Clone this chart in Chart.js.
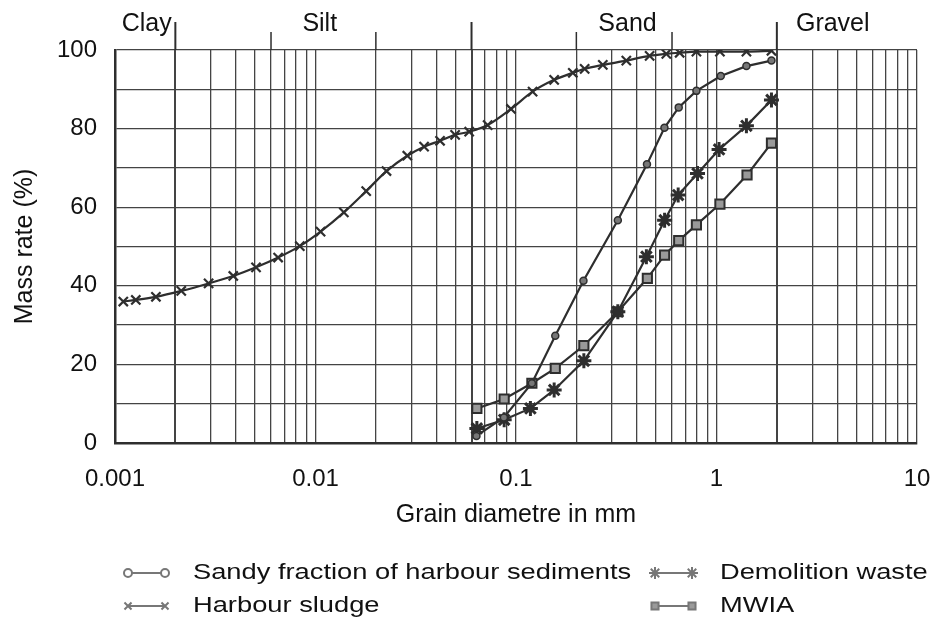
<!DOCTYPE html>
<html>
<head>
<meta charset="utf-8">
<script src="https://cdn.jsdelivr.net/npm/chart.js@4/dist/chart.umd.min.js"></script>
<style>
	html, body { margin: 0; padding: 0; background: #fff; }
	canvas { display: block; }
</style>
</head>
<body>
<canvas id="grain" width="936" height="621"></canvas>
<script>
var color = {
	ink: "#2e2e2e"
  , grid: "#444444"
  , mid: "#777777"
  , light: "#9a9a9a"
}

var fonts = '"Liberation Sans", Arial, Helvetica, sans-serif';

// grain size classes
var zoneNames   = ["Clay", "Silt", "Sand", "Gravel"];
var zoneLabelAt = [0.00144, 0.0105, 0.36, 3.8];
var zoneEdges   = [0.002, 0.06, 2];
var zoneSubEdges = [0.006, 0.02, 0.2, 0.6];

// axes
var xDecades    = [0.001, 0.01, 0.1, 1, 10];
var xTickLabels = ["0.001", "0.01", "0.1", "1", "10"];
var yTicks      = [0, 10, 20, 30, 40, 50, 60, 70, 80, 90, 100];
var yTickLabels = ["0", "", "20", "", "40", "", "60", "", "80", "", "100"];

// series
var seriesNames = [
	"Sandy fraction of harbour sediments",
	"Harbour sludge",
	"Demolition waste",
	"MWIA"
];

var sandyX = [0.0635, 0.087, 0.12, 0.157, 0.217, 0.322, 0.45, 0.55, 0.648, 0.794, 1.05, 1.41, 1.88];
var sandyY = [1.8, 6.5, 15.2, 27.3, 41.3, 56.7, 70.9, 80.2, 85.4, 89.6, 93.4, 95.9, 97.3];

var sludgeX = [0.0011, 0.00127, 0.0016, 0.00214, 0.00293, 0.00389, 0.00505, 0.00651, 0.00835, 0.0106,
	0.01385, 0.0179, 0.0226, 0.0287, 0.0348, 0.0418, 0.0497, 0.0584, 0.0722, 0.0944,
	0.121, 0.155, 0.192, 0.22, 0.271, 0.355, 0.464, 0.562, 0.655, 0.794, 1.04, 1.41, 1.88];
var sludgeY = [36, 36.4, 37.2, 38.7, 40.6, 42.5, 44.7, 47.2, 50.1, 53.8,
	58.7, 64.1, 69.2, 73.1, 75.4, 76.9, 78.4, 79.2, 80.9, 85,
	89.4, 92.4, 94.2, 95.2, 96.2, 97.3, 98.5, 99, 99.3, 99.6, 99.6, 99.6, 99.8];

var demolitionX = [0.0638, 0.0873, 0.118, 0.155, 0.218, 0.322, 0.447, 0.551, 0.644, 0.804, 1.03, 1.41, 1.88];
var demolitionY = [3.7, 5.9, 8.8, 13.5, 20.9, 33.4, 47.4, 56.7, 63.1, 68.6, 74.7, 80.7, 87.3];

var mwiaX = [0.0638, 0.0873, 0.12, 0.157, 0.218, 0.322, 0.452, 0.551, 0.648, 0.794, 1.04, 1.42, 1.88];
var mwiaY = [8.8, 11.2, 15.2, 19, 24.8, 33.4, 41.9, 47.8, 51.5, 55.5, 60.8, 68.2, 76.3];

function points(xs, ys) {
	return xs.map(function (x, i) { return { x: x, y: ys[i] }; });
}

// every log grid line 1..9 per decade
var xGrid = [];
for (var e = -3; e <= 0; e++) {
	for (var m = 1; m <= 9; m++) {
		xGrid.push(parseFloat((m * Math.pow(10, e)).toPrecision(3)));
	}
}
xGrid.push(10);

var data = {
	datasets: [
		{
			label: seriesNames[0],
			data: points(sandyX, sandyY),
			borderColor: color.ink,
			borderWidth: 2.2,
			pointStyle: "circle",
			pointRadius: 3.5,
			pointBackgroundColor: color.mid,
			pointBorderColor: color.ink,
			pointBorderWidth: 1.5,
			tension: 0
		},
		{
			label: seriesNames[1],
			data: points(sludgeX, sludgeY),
			borderColor: color.ink,
			borderWidth: 2.2,
			pointStyle: "crossRot",
			pointRadius: 6.5,
			pointBorderColor: color.ink,
			pointBorderWidth: 2.2,
			cubicInterpolationMode: "monotone"
		},
		{
			label: seriesNames[2],
			data: points(demolitionX, demolitionY),
			borderColor: color.ink,
			borderWidth: 2.2,
			pointStyle: "star",
			pointRadius: 7.5,
			pointBorderColor: color.ink,
			pointBorderWidth: 3,
			tension: 0
		},
		{
			label: seriesNames[3],
			data: points(mwiaX, mwiaY),
			borderColor: color.ink,
			borderWidth: 2.2,
			pointStyle: "rect",
			pointRadius: 6.5,
			pointBackgroundColor: color.light,
			pointBorderColor: color.ink,
			pointBorderWidth: 2,
			tension: 0
		}
	]
};

// class boundaries and names above the plot
var zonePlugin = {
	id: "zones",
	afterDraw: function (chart) {
		var ctx = chart.ctx
		  , xs = chart.scales.x
		  , top = chart.chartArea.top;
		ctx.save();
		ctx.strokeStyle = color.ink;
		ctx.lineWidth = 2;
		zoneEdges.forEach(function (v) {
			var px = xs.getPixelForValue(v);
			ctx.beginPath(); ctx.moveTo(px, top); ctx.lineTo(px, 22); ctx.stroke();
		});
		ctx.lineWidth = 1.5;
		zoneSubEdges.forEach(function (v) {
			var px = xs.getPixelForValue(v);
			ctx.beginPath(); ctx.moveTo(px, top); ctx.lineTo(px, 32); ctx.stroke();
		});
		ctx.fillStyle = "#111";
		ctx.font = "25px " + fonts;
		ctx.textAlign = "center";
		ctx.textBaseline = "alphabetic";
		zoneNames.forEach(function (name, i) {
			ctx.fillText(name, xs.getPixelForValue(zoneLabelAt[i]), 31);
		});
		ctx.restore();
	}
};

// two-column legend under the axis title
var legendPlugin = {
	id: "gridLegend",
	afterDraw: function (chart) {
		var ctx = chart.ctx
		  , colX = [128, 655]
		  , rowY = [573, 606]
		  , slot = [[0, 0], [0, 1], [1, 0], [1, 1]]
		  , radius = [4, 5, 6, 5];
		ctx.save();
		chart.data.datasets.forEach(function (ds, i) {
			var x0 = colX[slot[i][0]], y = rowY[slot[i][1]], x1 = x0 + 37;
			ctx.strokeStyle = color.mid;
			ctx.lineWidth = 2;
			ctx.beginPath(); ctx.moveTo(x0, y); ctx.lineTo(x1, y); ctx.stroke();
			ctx.strokeStyle = color.mid;
			ctx.fillStyle = i === 0 ? "#fff" : color.light;
			[x0, x1].forEach(function (px) {
				Chart.helpers.drawPoint(ctx, {
					pointStyle: ds.pointStyle, radius: radius[i], rotation: 0, borderWidth: 2
				}, px, y);
			});
			ctx.fillStyle = "#111";
			ctx.font = "22px " + fonts;
			ctx.textAlign = "left";
			ctx.textBaseline = "middle";
			ctx.save();
			ctx.translate(x1 + 28, y);
			ctx.scale(1.24, 1);
			ctx.fillText(ds.label, 0, 0);
			ctx.restore();
		});
		ctx.restore();
	}
};

var options = {
	responsive: false,
	animation: false,
	layout: { padding: { top: 50, right: 19, bottom: 88, left: 0 } },
	plugins: {
		legend: { display: false },
		tooltip: { enabled: false }
	},
	scales: {
		x: {
			type: "logarithmic",
			min: 0.001,
			max: 10,
			afterBuildTicks: function (scale) {
				scale.ticks = xGrid.map(function (v) { return { value: v }; });
			},
			afterFit: function (scale) {
				scale.height = 90;
				scale.paddingLeft = 0;
				scale.paddingRight = 0;
			},
			grid: {
				color: color.grid,
				lineWidth: function (c) {
					return c.tick && zoneEdges.indexOf(c.tick.value) >= 0 ? 2 : 1.3;
				},
				drawTicks: false
			},
			border: { display: true, color: color.ink, width: 2.5 },
			ticks: {
				autoSkip: false,
				maxRotation: 0,
				padding: 22,
				color: "#111",
				font: { size: 24, family: fonts },
				callback: function (v) {
					var i = xDecades.indexOf(v);
					return i >= 0 ? xTickLabels[i] : "";
				}
			},
			title: {
				display: true,
				text: "Grain diametre in mm",
				color: "#111",
				font: { size: 25, family: fonts },
				padding: { top: 0, bottom: 3 }
			}
		},
		y: {
			min: 0,
			max: 100,
			afterBuildTicks: function (scale) {
				scale.ticks = yTicks.map(function (v) { return { value: v }; });
			},
			afterFit: function (scale) { scale.width = 115; },
			grid: { color: color.grid, lineWidth: 1.3, drawTicks: false },
			border: { display: true, color: color.ink, width: 2.5 },
			ticks: {
				autoSkip: false,
				padding: 18,
				color: "#111",
				font: { size: 24, family: fonts },
				callback: function (v) {
					var i = yTicks.indexOf(v);
					return i >= 0 ? yTickLabels[i] : "";
				}
			},
			title: {
				display: true,
				text: "Mass rate (%)",
				color: "#111",
				font: { size: 25, family: fonts },
				padding: { top: 10, bottom: 0 }
			}
		}
	}
};

var ctx = document.getElementById("grain").getContext("2d");
var grainChart = new Chart(ctx, {
	type: "line",
	data: data,
	options: options,
	plugins: [zonePlugin, legendPlugin]
});
</script>
</body>
</html>
